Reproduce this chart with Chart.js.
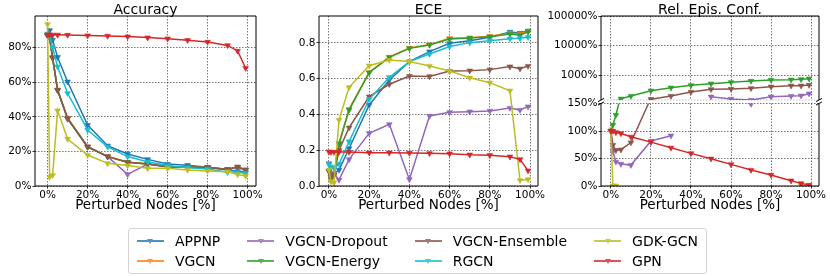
<!DOCTYPE html>
<html><head><meta charset="utf-8">
<script src="https://cdn.jsdelivr.net/npm/chart.js@4.4.0/dist/chart.umd.min.js"></script>
<style>
html,body{margin:0;padding:0;background:#fff;}
#wrap{position:relative;width:830px;height:276px;overflow:hidden;font-family:'DejaVu Sans',sans-serif;background:#fff;}
canvas{position:absolute;left:0;top:0;}
#legend{position:absolute;left:128px;top:228px;width:579px;height:46px;box-sizing:border-box;border:1px solid #d4d4d4;border-radius:3px;display:grid;grid-template-columns:repeat(4,auto);grid-template-rows:repeat(2,20px);grid-auto-flow:column;column-gap:27px;align-content:center;justify-content:center;font-size:14px;color:#000;}
.item{display:flex;align-items:center;height:20px;white-space:nowrap;}
.sw{position:relative;width:27px;height:14px;margin-right:11px;opacity:0.8;}
.sw .ln{position:absolute;left:0;right:0;top:6px;height:2px;}
.sw .mk{position:absolute;left:10.5px;top:4.5px;width:0;height:0;border-left:3px solid transparent;border-right:3px solid transparent;border-top:5px solid;}
</style></head>
<body><div id="wrap">
<canvas id="cAcc" width="830" height="276"></canvas>
<canvas id="cEce" width="830" height="276"></canvas>
<canvas id="cRecHigh" width="830" height="276"></canvas>
<canvas id="cRecLow" width="830" height="276"></canvas>
<div id="legend"></div>
</div>
<script>
// ---------- data ----------
const percentNodes = [0, 1, 2.5, 5, 10, 20, 30, 40, 50, 60, 70, 80, 90, 95, 99];
const seriesNames = ['APPNP','VGCN','VGCN-Dropout','VGCN-Energy','VGCN-Ensemble','RGCN','GDK-GCN','GPN'];
const seriesColors = ['#1f77b4','#ff7f0e','#9467bd','#2ca02c','#8c564b','#17becf','#bcbd22','#d62728'];

const xTickValues = [0, 20, 40, 60, 80, 100];
const accTickValues = [0, 20, 40, 60, 80];
const eceTickValues = [0, 0.2, 0.4, 0.6, 0.8];
const recLowTickValues = [0, 50, 100, 150];
const recHighTickValues = [1000, 10000, 100000];

// Accuracy [%]
const accAPPNP    = [87, 90, 84.5, 74.5, 60.3, 35.2, 23.3, 18.5, 15.4, 12.7, 12.0, 10.8, 9.2, 8.5, 7.9];
const accVGCN     = [87, 86, 74.0, 55.6, 39.3, 22.8, 17.2, 13.8, 12.8, 11.3, 10.9, 10.9, 9.7, 10.8, 9.4];
const accDropout  = [87, 86, 74.0, 55.5, 39.0, 22.7, 17.0, 6.7, 12.7, 11.2, 10.8, 10.8, 9.6, 11.0, 9.3];
const accEnergy   = [87, 86, 74.2, 55.3, 38.8, 22.5, 17.0, 13.7, 12.7, 11.2, 10.8, 10.8, 9.6, 11.0, 9.3];
const accEnsemble = [87, 86, 74.4, 55.5, 39.1, 22.7, 17.0, 13.7, 12.7, 11.2, 10.8, 10.8, 9.6, 11.0, 9.3];
const accRGCN     = [88, 87, 80.0, 69.0, 53.6, 32.4, 22.7, 17.0, 14.0, 11.8, 10.6, 9.8, 7.9, 7.9, 7.3];
const accGDK      = [93.5, 5.2, 6.2, 43.6, 27.2, 17.9, 13.1, 11.8, 10.2, 10.2, 9.3, 8.7, 8.3, 6.7, 5.8];
const accGPN      = [87.5, 87.5, 87.4, 87.4, 87.3, 87.0, 86.8, 86.4, 85.8, 85.2, 84.3, 83.3, 81.3, 78.1, 68.2];

// ECE
const eceAPPNP    = [0.085, 0.06, 0.07, 0.09, 0.21, 0.453, 0.593, 0.696, 0.752, 0.798, 0.813, 0.832, 0.862, 0.856, 0.869];
const eceVGCN     = [0.085, 0.05, 0.06, 0.24, 0.43, 0.636, 0.722, 0.772, 0.791, 0.826, 0.829, 0.838, 0.855, 0.85, 0.865];
const eceDropout  = [0.127, 0.05, 0.07, 0.034, 0.149, 0.295, 0.345, 0.037, 0.392, 0.412, 0.416, 0.42, 0.436, 0.425, 0.444];
const eceEnergy   = [0.084, 0.052, 0.06, 0.235, 0.425, 0.634, 0.72, 0.77, 0.789, 0.822, 0.828, 0.835, 0.85, 0.843, 0.862];
const eceEnsemble = [0.08, 0.04, 0.06, 0.2, 0.326, 0.5, 0.569, 0.615, 0.613, 0.643, 0.645, 0.651, 0.668, 0.656, 0.671];
const eceRGCN     = [0.121, 0.108, 0.1, 0.123, 0.248, 0.485, 0.608, 0.696, 0.738, 0.78, 0.802, 0.813, 0.824, 0.826, 0.832];
const eceGDK      = [0.09, 0.024, 0.019, 0.37, 0.552, 0.673, 0.705, 0.696, 0.671, 0.643, 0.606, 0.578, 0.533, 0.032, 0.037];
const eceGPN      = [0.192, 0.19, 0.19, 0.19, 0.19, 0.186, 0.186, 0.185, 0.183, 0.181, 0.175, 0.172, 0.164, 0.149, 0.086];

// Relative epistemic confidence [%]
const recDropout  = [100, 62.7, 44, 40, 38, 82, 91.5, null, 194, 162, 149, 194, 204, 209, 245];
const recEnergy   = [100, 111, 129, 165, 204, 308, 389, 468, 530, 590, 653, 705, 722, 744, 780];
const recEnsemble = [100, 74.5, 65, 66, 79, 160, 204, 279, 343, 351, 371, 420, 453, 453, 479];
const recGDK      = [100, 0.5, 0.5, null, null, null, null, null, null, null, null, null, null, 1, 0.5];
const recGPN      = [100, 100, 97.5, 95.5, 89.5, 79.8, 69.5, 59.3, 49.6, 39.3, 29, 20, 9.7, 4.8, 1.8];

const accValues = [accAPPNP, accVGCN, accDropout, accEnergy, accEnsemble, accRGCN, accGDK, accGPN];
const eceValues = [eceAPPNP, eceVGCN, eceDropout, eceEnergy, eceEnsemble, eceRGCN, eceGDK, eceGPN];
const recValues = [null, null, recDropout, recEnergy, recEnsemble, null, recGDK, recGPN];

// ---------- helpers ----------
const FONT = "'DejaVu Sans', sans-serif";
Chart.defaults.font.family = FONT;
Chart.defaults.color = '#000';
Chart.defaults.animation = false;

const W = 830, H = 276;
const TICK_FONT = {size: 10.5, family: FONT};
const GRID = {color: 'rgba(0,0,0,0.6)', lineWidth: 0.9, tickColor: '#000', tickLength: 2.5, tickWidth: 0.8};
const BORDER = {display: false, dash: [1.5, 1.5]};

function fit(w, h) {
  return function (s) {
    if (w !== null) s.width = w;
    if (h !== null) s.height = h;
    s.paddingLeft = 0; s.paddingRight = 0; s.paddingTop = 0; s.paddingBottom = 0;
  };
}
function setTicks(vals) { return function (s) { s.ticks = vals.map(v => ({value: v})); }; }

function datasets(valuesList) {
  const out = [];
  valuesList.forEach((vals, i) => {
    if (!vals) return;
    out.push({
      label: seriesNames[i],
      data: percentNodes.map((x, j) => ({x: x, y: vals[j]})),
      borderColor: seriesColors[i], backgroundColor: seriesColors[i],
      borderWidth: 1.5, pointStyle: 'triangle', pointRotation: 180,
      pointRadius: 3.3, pointHoverRadius: 3.3, pointBorderWidth: 0.6,
      tension: 0, spanGaps: false, clip: 0, order: 20 - i
    });
  });
  return out;
}

function decor(opt) {
  return {
    id: 'decor',
    afterDatasetsDraw(chart) {
      const ctx = chart.ctx, a = chart.chartArea;
      ctx.save();
      ctx.strokeStyle = '#000'; ctx.lineWidth = 1;
      const s = opt.sides;
      ctx.beginPath();
      if (s.includes('l')) { ctx.moveTo(a.left, a.top); ctx.lineTo(a.left, a.bottom); }
      if (s.includes('r')) { ctx.moveTo(a.right, a.top); ctx.lineTo(a.right, a.bottom); }
      if (s.includes('t')) { ctx.moveTo(a.left, a.top); ctx.lineTo(a.right, a.top); }
      if (s.includes('b')) { ctx.moveTo(a.left, a.bottom); ctx.lineTo(a.right, a.bottom); }
      ctx.stroke();
      if (opt.breakY) {
        const y = opt.breakY === 'bottom' ? a.bottom : a.top;
        ctx.beginPath();
        [a.left, a.right].forEach(x => { ctx.moveTo(x - 3, y + 1.6); ctx.lineTo(x + 3, y - 1.6); });
        ctx.stroke();
        if (opt.breakY === 'bottom') {
          ctx.strokeStyle = 'rgba(0,0,0,0.3)'; ctx.lineWidth = 0.8; ctx.setLineDash([1.5, 1.5]);
          ctx.beginPath(); ctx.moveTo(a.left, a.bottom); ctx.lineTo(a.right, a.bottom); ctx.stroke();
        }
      }
      ctx.restore();
    },
    afterDraw(chart) {
      if (!opt.title) return;
      const ctx = chart.ctx, a = chart.chartArea;
      ctx.save();
      ctx.font = '14px ' + FONT; ctx.fillStyle = '#000';
      ctx.textAlign = 'center'; ctx.textBaseline = 'alphabetic';
      ctx.fillText(opt.title, (a.left + a.right) / 2, 13.5);
      ctx.restore();
    }
  };
}

function xScale(min, max, showLabels) {
  return {
    type: 'linear', min: min, max: max,
    afterBuildTicks: setTicks(xTickValues),
    afterFit: fit(null, showLabels ? 28 : 0),
    ticks: {display: showLabels, font: TICK_FONT, padding: 0.5, maxRotation: 0, autoSkip: false, callback: v => v + '%'},
    grid: Object.assign({}, GRID, {drawTicks: showLabels}),
    border: BORDER,
    title: {display: showLabels, text: 'Perturbed Nodes [%]', font: {size: 13.5, family: FONT}, padding: {top: 0, bottom: 0}}
  };
}
function yScale(type, min, max, ticks, fmt, width) {
  return {
    type: type, min: min, max: max,
    afterBuildTicks: setTicks(ticks),
    afterFit: fit(width, null),
    ticks: {font: TICK_FONT, padding: 1, autoSkip: false, callback: fmt},
    grid: GRID, border: BORDER
  };
}

function makeChart(id, sets, box, xs, ys, opt) {
  new Chart(document.getElementById(id), {
    type: 'line',
    data: {datasets: sets},
    options: {
      responsive: false, animation: false, events: [],
      layout: {padding: {left: box.left - box.yW, right: W - box.right, top: box.top, bottom: H - box.bottom - box.xH}},
      plugins: {legend: {display: false}, tooltip: {enabled: false}, title: {display: false}},
      scales: {x: xs, y: ys}
    },
    plugins: [decor(opt)]
  });
}

// Accuracy
makeChart('cAcc', datasets(accValues), {left: 35, right: 256, top: 16, bottom: 186, yW: 35, xH: 28},
  xScale(-6.3, 104.2, true),
  yScale('linear', 0, 98.3, accTickValues, v => v + '%', 35),
  {sides: 'ltrb', title: 'Accuracy'});

// ECE
makeChart('cEce', datasets(eceValues), {left: 319, right: 538, top: 16, bottom: 186, yW: 40, xH: 28},
  xScale(-4.95, 103.95, true),
  yScale('linear', 0, 0.951, eceTickValues, v => v.toFixed(1), 40),
  {sides: 'ltrb', title: 'ECE'});

// Rel. Epis. Conf. (upper, log part)
makeChart('cRecHigh', datasets(recValues), {left: 601, right: 819, top: 16, bottom: 100, yW: 60, xH: 0},
  xScale(-4.95, 103.95, false),
  yScale('logarithmic', 150, 100000, recHighTickValues, v => v + '%', 60),
  {sides: 'ltr', title: 'Rel. Epis. Conf.', breakY: 'bottom'});

// Rel. Epis. Conf. (lower, linear part)
makeChart('cRecLow', datasets(recValues), {left: 601, right: 819, top: 103.5, bottom: 186, yW: 60, xH: 28},
  xScale(-4.95, 103.95, true),
  yScale('linear', 0, 150, recLowTickValues, v => v + '%', 60),
  {sides: 'lrb', breakY: 'top'});

// ---------- legend ----------
const leg = document.getElementById('legend');
seriesNames.forEach((name, i) => {
  const it = document.createElement('div'); it.className = 'item';
  const sw = document.createElement('span'); sw.className = 'sw';
  const ln = document.createElement('span'); ln.className = 'ln'; ln.style.background = seriesColors[i];
  const mk = document.createElement('span'); mk.className = 'mk'; mk.style.borderTopColor = seriesColors[i];
  sw.appendChild(ln); sw.appendChild(mk);
  const tx = document.createElement('span'); tx.textContent = name;
  it.appendChild(sw); it.appendChild(tx);
  leg.appendChild(it);
});
</script>
</body></html>
